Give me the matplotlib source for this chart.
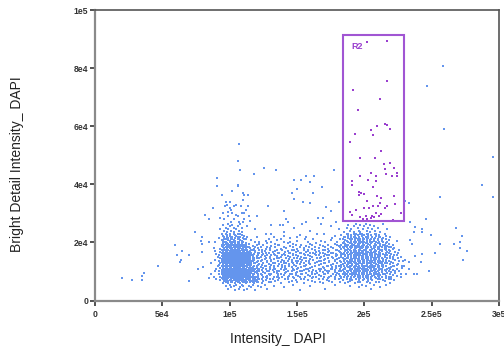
import matplotlib
matplotlib.use("Agg")
import matplotlib.pyplot as plt
from matplotlib.patches import Rectangle
import numpy as np

plt.rcParams['font.family'] = ['Liberation Sans', 'DejaVu Sans']

x_ticks = [0, 50000, 100000, 150000, 200000, 250000, 300000]
x_tick_labels = ["0", "5e4", "1e5", "1.5e5", "2e5", "2.5e5", "3e5"]
y_ticks = [0, 20000, 40000, 60000, 80000, 100000]
y_tick_labels = ["0", "2e4", "4e4", "6e4", "8e4", "1e5"]
x_label = "Intensity_ DAPI"
y_label = "Bright Detail Intensity_ DAPI"

# R2 gate, in thousands
gate_name = "R2"
gate_x = [183.9, 229.2]
gate_y = [27.2, 91.4]

# individually read sparse events (thousands)
sparse_pts = [
    (19.8, 7.8), (27.7, 7.2), (34.7, 8.6), (36.4, 9.5), (34.7, 6.9), (46.5, 11.8),
    (59.2, 19.1), (64.9, 17.2), (60.9, 15.5), (63.9, 14.1), (62.9, 13.2), (69.8, 15.5),
    (69.8, 6.6), (76.5, 10.9), (80.4, 11.4), (74.5, 23.6), (78.5, 20.5), (79.5, 21.8),
    (79.5, 19.5), (79.5, 16.8), (84.4, 20.0), (81.7, 29.4), (84.7, 27.9), (84.9, 7.8),
    (106.9, 53.9), (106.0, 47.9), (107.9, 44.8), (125.5, 45.6), (134.2, 44.8), (117.8, 43.4),
    (90.6, 42.1), (90.6, 39.3), (106.0, 39.8), (106.0, 39.3), (101.5, 37.6), (94.1, 36.2),
    (109.9, 37.1), (110.9, 36.2), (113.8, 36.2), (97.3, 33.9), (100.3, 33.9), (109.9, 34.5),
    (96.5, 32.5), (103.0, 32.5), (108.2, 32.5), (113.8, 32.5), (87.4, 31.7), (100.3, 31.7),
    (128.5, 32.5), (147.8, 41.6), (152.7, 41.6), (156.7, 43.0), (162.6, 43.0), (159.7, 40.7),
    (177.5, 44.8), (168.3, 39.0), (149.8, 38.4), (146.1, 37.1), (161.7, 37.1), (147.8, 34.8),
    (154.7, 33.9), (159.7, 33.4), (171.3, 32.1), (181.0, 33.9), (140.3, 30.8), (165.4, 28.5),
    (169.5, 28.5), (175.5, 30.8), (137.4, 25.9), (139.9, 25.9), (143.5, 27.0), (153.5, 26.2),
    (98.5, 30.5), (104.5, 29.5), (111.0, 30.0), (93.0, 28.5), (115.0, 27.5), (107.0, 27.0),
    (120.0, 29.0),
    (258.4, 80.8), (246.8, 73.7), (259.4, 59.2), (295.5, 49.3), (287.6, 39.8), (256.4, 35.8),
    (295.5, 35.8), (230.0, 34.2), (233.2, 33.6), (245.8, 28.0), (237.9, 25.4), (242.8, 24.5),
    (236.9, 23.6), (242.8, 23.6), (249.7, 22.6), (268.3, 24.9), (272.3, 22.2), (233.9, 20.8),
    (235.2, 19.5), (256.4, 19.5), (266.4, 19.5), (271.3, 20.0), (271.3, 18.2), (276.2, 17.2),
    (252.5, 16.3), (242.8, 15.9), (237.9, 15.4), (273.3, 14.1), (233.2, 13.2), (241.9, 13.2),
    (229.2, 11.8), (247.8, 10.0), (236.9, 9.1), (238.9, 9.1),
]

# events read inside the R2 gate (thousands)
r2_pts = [
    (216.6, 89.4), (201.8, 89.0), (216.6, 75.5), (191.8, 72.3), (211.6, 69.5), (195.1, 65.5),
    (215.4, 60.9), (216.6, 60.5), (209.7, 60.0), (219.3, 59.2), (204.7, 58.7), (206.7, 56.8),
    (193.1, 57.3), (189.1, 54.6), (212.4, 51.5), (196.8, 48.9), (207.7, 48.9), (219.3, 47.5),
    (214.4, 46.9), (215.4, 45.2), (222.3, 45.6), (220.3, 42.9), (216.3, 43.4), (224.0, 43.8),
    (224.2, 42.9), (204.7, 43.8), (208.7, 42.9), (196.8, 42.9), (191.1, 41.1), (202.7, 41.5),
    (208.7, 41.0), (190.8, 39.7), (206.4, 39.2), (195.8, 37.5), (197.8, 36.9), (199.5, 36.5),
    (195.8, 36.4), (209.4, 36.1), (222.3, 36.1), (212.4, 35.2), (201.8, 34.2), (211.6, 33.7),
    (222.5, 33.2), (206.7, 32.5), (209.9, 32.5), (203.7, 32.0), (199.8, 31.8), (194.1, 31.0),
    (215.4, 31.8), (216.6, 32.4), (212.6, 29.9), (208.4, 30.1), (190.8, 29.5), (189.1, 30.3),
    (196.8, 28.6), (201.2, 29.1), (205.9, 29.2), (210.7, 29.2), (207.0, 28.7), (205.0, 28.5),
    (201.8, 28.0), (199.3, 28.0), (200.3, 27.5), (184.4, 29.1), (221.5, 27.7), (227.0, 30.2),
]

# dense region, read row by row: (y level in thousands, x values in thousands)
dense_rows = [
    (3.5, "104 111 119 152"),
    (4.0, "99 107 113 128 171 205"),
    (4.5, "101 108 116 123 140 196 212"),
    (5.0, "97 103 110 114 121 133 160 189 201"),
    (5.5, "100 105 109 117 126 147 178 198 207 216"),
    (6.0, "95 99 104 108 112 118 124 138 155 169 186 193 204 219"),
    (6.5, "97 101 106 110 113 117 121 131 144 163 176 188 197 202 211"),
    (7.0, "93 97 100 103 106 108 111 114 117 120 127 136 149 158 172 184 191 199 206 214 222"),
    (7.5, "90 96 98 101 103 105 108 110 113 115 118 122 130 141 153 166 178 187 194 200 205 212 218"),
    (8.0, "88 95 97 99 100 102 104 106 107 109 111 112 114 116 119 125 133 139 147 156 164 170 178 185 190 195 199 203 208 213 220 227"),
    (8.5, "96 98 100 101 103 105 107 108 110 112 113 115 117 121 128 136 144 151 160 168 175 182 188 193 197 201 206 210 216 224"),
    (9.0, "86 94 97 98 100 102 103 105 106 108 110 111 113 115 118 123 131 138 146 154 161 170 177 184 189 192 196 200 204 209 214 219 231"),
    (9.5, "95 96 98 99 101 103 104 106 108 109 111 113 114 116 120 126 135 141 149 157 165 173 180 186 191 194 198 202 207 211 217 223"),
    (10.0, "89 96 97 99 100 102 104 105 107 108 110 112 113 115 117 122 129 137 143 152 159 167 174 181 187 190 194 197 201 205 208 213 218 226"),
    (10.5, "94 95 97 99 100 102 103 105 107 108 110 111 113 115 118 124 132 140 148 155 162 171 178 184 189 193 196 200 203 207 211 215 221"),
    (11.0, "90 96 97 99 101 102 104 105 107 109 110 112 114 116 119 121 127 134 142 150 158 166 175 182 185 190 194 198 201 205 209 212 217 224 233"),
    (11.5, "95 97 98 100 101 103 105 106 108 110 111 113 115 117 123 130 139 146 153 161 169 176 183 188 192 195 199 203 206 210 214 220"),
    (12.0, "91 96 97 99 100 102 104 105 107 108 110 112 113 115 118 120 126 133 141 149 156 163 172 179 185 189 193 196 200 204 207 211 216 222 228"),
    (12.5, "95 97 98 100 102 103 105 106 108 109 111 113 114 116 122 129 137 144 152 160 168 177 184 188 191 195 198 202 205 209 213 219 225"),
    (13.0, "86 95 96 98 99 101 103 104 106 107 109 111 112 114 116 119 125 132 140 147 155 163 171 180 186 190 194 197 200 204 208 212 215 221"),
    (13.5, "94 96 97 99 101 102 104 105 107 109 110 112 113 115 117 121 128 136 143 151 159 166 174 182 187 191 195 199 202 206 210 214 218 226"),
    (14.0, "89 95 97 98 100 101 103 105 106 108 110 111 113 115 118 124 131 139 146 154 162 170 178 185 189 193 196 200 203 207 211 216 223 230"),
    (14.5, "96 97 99 100 102 104 105 107 108 110 112 113 115 120 127 135 142 150 157 165 173 181 187 190 194 198 201 205 209 213 219"),
    (15.0, "91 95 97 98 100 102 103 105 106 108 109 111 113 114 117 123 130 138 145 153 161 168 176 183 188 192 196 199 203 206 210 215 221 227"),
    (15.5, "96 97 99 101 102 104 105 107 109 110 112 114 116 121 128 134 141 149 158 164 172 180 186 190 194 197 201 204 208 212 217 224"),
    (16.0, "90 95 97 98 100 101 103 104 106 108 109 111 112 114 118 125 133 140 147 155 163 171 179 184 189 193 196 200 205 209 214 220"),
    (16.5, "96 97 99 100 102 104 105 107 108 110 112 113 116 122 129 137 144 152 160 167 175 183 187 191 195 198 202 206 211 216 225"),
    (17.0, "89 95 97 98 100 102 103 105 106 108 110 111 113 115 119 126 134 143 151 158 166 174 181 186 190 194 198 201 205 209 213 219"),
    (17.5, "95 97 99 101 103 105 107 109 111 113 117 124 135 146 158 169 180 187 192 196 200 204 208 213 218 226"),
    (18.0, "88 96 98 100 102 104 106 108 110 112 115 121 130 142 155 166 177 185 190 194 198 202 207 211 216 222"),
    (18.5, "97 99 101 104 106 108 110 113 119 128 140 152 163 175 184 189 193 197 201 205 210 215 220"),
    (19.0, "94 98 100 103 105 108 112 125 137 149 161 173 183 188 192 196 200 204 209 214 221"),
    (19.5, "97 99 102 106 109 114 122 134 147 160 178 186 191 195 199 203 208 212 218"),
    (20.0, "89 96 101 103 107 110 119 131 145 158 171 185 190 194 198 202 206 211 217"),
    (20.5, "95 100 104 109 127 150 168 187 193 197 202 207 213 224"),
    (21.0, "97 102 107 112 138 162 184 191 195 200 205 210 216"),
    (21.5, "92 99 104 110 145 176 188 194 199 203 208 214"),
    (22.0, "96 101 106 113 133 157 186 192 196 201 206 212 219"),
    (22.5, "98 104 109 152 183 190 195 200 205 211"),
    (23.0, "94 100 106 127 170 188 194 198 203 209 215"),
    (23.5, "98 103 109 140 185 192 197 204 212"),
    (24.0, "96 101 107 160 189 196 202 208"),
    (24.5, "93 99 105 119 181 190 199 206 217"),
    (25.0, "97 103 109 148 187 195 203 210"),
    (25.5, "100 106 113 175 192 200 207"),
    (26.0, "95 102 131 188 197 204"),
    (26.5, "99 108 168 194 201 214"),
    (27.0, "101 110 157 179 234"),
    (28.0, "96 103 111 142"),
    (29.0, "99 106 114"),
    (30.0, "95 102 109"),
    (31.0, "101 112"),
    (33.0, "98 105"),
    # in-between rows of the dense band
    (6.25, "98 102 107 111 115 120 129 150 167 182 195 209"),
    (6.75, "96 99 102 105 109 112 116 119 125 134 146 161 174 189 196 203 215"),
    (7.25, "95 98 101 104 107 109 112 115 119 124 132 143 155 169 181 189 196 203 210 220"),
    (7.75, "94 97 99 102 104 106 109 112 114 117 121 128 137 148 161 173 183 190 197 202 209 216"),
    (8.25, "93 96 98 101 103 105 106 108 110 113 116 120 127 135 143 152 162 174 183 187 192 197 201 205 211 218"),
    (8.75, "95 97 99 102 104 106 109 111 114 117 124 130 140 149 158 166 179 186 191 195 199 203 207 212 221"),
    (9.25, "92 96 99 101 104 107 109 112 114 117 121 129 136 145 153 163 171 181 187 190 194 198 202 205 210 215 227"),
    (9.75, "94 97 100 102 105 107 110 112 115 119 125 133 142 150 161 169 178 185 188 192 196 200 204 209 213 220"),
    (10.25, "92 95 98 101 103 106 109 111 114 116 120 128 135 146 154 164 172 183 188 192 195 199 202 206 210 216 223"),
    (10.75, "96 98 101 104 106 109 112 114 117 122 130 138 147 157 168 176 186 191 195 198 202 205 209 213 219"),
    (11.25, "93 95 98 100 103 106 108 111 114 116 120 125 133 141 151 160 170 179 186 189 193 197 200 204 207 211 218 228"),
    (11.75, "94 96 99 102 104 107 109 112 115 118 127 136 144 155 163 173 181 187 190 194 198 201 205 208 213 221"),
    (12.25, "92 95 98 101 103 106 108 111 114 116 121 124 131 139 148 157 166 175 183 187 191 194 198 202 206 210 214 224"),
    (12.75, "93 96 99 101 104 107 109 112 115 118 125 134 142 150 159 170 180 186 189 193 197 200 203 207 211 217"),
    (13.25, "94 97 100 102 105 108 110 113 115 120 128 138 146 153 165 174 183 188 192 196 199 202 206 210 213 220"),
    (13.75, "92 95 98 100 103 106 108 111 114 116 123 131 140 149 157 168 178 185 189 193 197 200 204 208 212 216 229"),
    (14.25, "94 96 99 102 104 107 109 112 114 117 126 133 144 152 160 171 180 186 191 195 198 202 205 209 214 221"),
    (14.75, "93 95 98 101 103 106 109 111 114 118 122 130 137 148 155 167 177 184 188 192 196 199 203 207 211 217 225"),
    (15.25, "94 96 99 102 104 107 110 112 115 120 126 135 143 151 160 170 179 186 190 194 198 201 205 208 212 219"),
    (15.75, "92 95 98 100 103 106 108 111 113 117 124 131 139 147 156 166 174 183 188 192 195 199 202 206 210 215 222"),
    (16.25, "94 96 99 101 104 107 109 112 115 121 127 136 145 153 162 169 177 185 190 194 197 201 204 208 212 218"),
    (16.75, "93 95 98 101 103 106 108 111 114 119 124 132 141 149 157 164 173 182 188 192 196 199 203 207 211 217 223"),
    (17.25, "94 96 99 102 104 107 110 112 116 122 130 139 148 155 163 171 179 186 189 193 197 200 204 208 212 216"),
    (17.75, "93 96 98 101 104 106 109 112 118 127 138 150 161 173 183 188 193 197 201 206 210 215 221"),
    (18.25, "95 97 100 103 105 108 111 114 123 134 147 159 171 182 187 191 195 199 203 208 213 218"),
    (18.75, "94 98 100 103 106 109 112 117 131 145 157 169 181 186 190 194 198 202 207 212 217"),
    (19.25, "96 99 102 105 108 111 120 136 153 167 180 187 191 195 199 204 209 215"),
    (19.75, "95 98 101 104 107 112 128 143 164 184 189 193 197 201 205 210 216"),
    (20.25, "97 100 102 106 109 122 140 158 180 188 192 196 200 204 209 214"),
    (20.75, "94 99 103 108 116 135 175 186 190 195 199 204 210 218"),
    (21.25, "96 101 106 111 129 156 182 189 193 197 202 207 213"),
    (21.75, "98 102 108 120 150 185 190 196 201 206 211"),
    (22.25, "95 100 105 111 140 178 188 193 198 203 209 216"),
    (22.75, "97 103 108 131 165 187 192 197 202 208"),
]

# ---- assemble events ----
xs, ys = [], []
for (x, y) in sparse_pts + r2_pts:
    xs.append(x)
    ys.append(y)
for yv, row in dense_rows:
    for v in row.split():
        xs.append(float(v))
        ys.append(yv)
xs = np.array(xs) * 1000.0
ys = np.array(ys) * 1000.0

gx0, gx1 = gate_x[0] * 1000, gate_x[1] * 1000
gy0, gy1 = gate_y[0] * 1000, gate_y[1] * 1000
inside = (xs >= gx0) & (xs <= gx1) & (ys >= gy0) & (ys <= gy1)

fig = plt.figure(figsize=(5.04, 3.5), dpi=100)
ax = fig.add_axes([95 / 504, 1 - 300.5 / 350, 404 / 504, 290.5 / 350])

blue = "#6495ED"
purple = "#9a3fcf"
ax.scatter(xs[~inside], ys[~inside], s=3.8, marker="s", color=blue, linewidths=0)
ax.scatter(xs[inside], ys[inside], s=3.0, marker="s", color=purple, linewidths=0)

ax.add_patch(Rectangle((gx0, gy0), gx1 - gx0, gy1 - gy0, fill=False,
                       edgecolor="#a155d3", linewidth=1.5))
ax.text(gx0 + 6500, gy1 - 4100, gate_name, color="#9a3fcf", fontsize=6.5,
        fontweight="bold", ha="left", va="center")

ax.set_xlim(0, 300000)
ax.set_ylim(0, 100000)
ax.set_xticks(x_ticks)
ax.set_xticklabels(x_tick_labels)
ax.set_yticks(y_ticks)
ax.set_yticklabels(y_tick_labels)
ax.tick_params(axis="both", which="major", labelsize=6.2, colors="#333333",
               length=3.5, width=1.2)
ax.tick_params(axis="x", pad=3)
ax.tick_params(axis="y", pad=1.5)
for lab in ax.get_xticklabels() + ax.get_yticklabels():
    lab.set_fontweight("bold")

for side in ["left", "bottom"]:
    ax.spines[side].set_color("#8a8a8a")
    ax.spines[side].set_linewidth(1.6)
for side in ["top", "right"]:
    ax.spines[side].set_color("#555555")
    ax.spines[side].set_linewidth(1.2)

ax.set_xlabel(x_label, fontsize=10, color="#222222")
ax.set_ylabel(y_label, fontsize=10, color="#222222")
ax.xaxis.set_label_coords((277.5 - 95) / 404, (300.5 - 339) / 290.5)
ax.yaxis.set_label_coords((17.5 - 95) / 404, (300.5 - 164) / 290.5)
ax.xaxis.label.set_va("center")
ax.yaxis.label.set_va("center")

fig.savefig("out.png", dpi=100)
